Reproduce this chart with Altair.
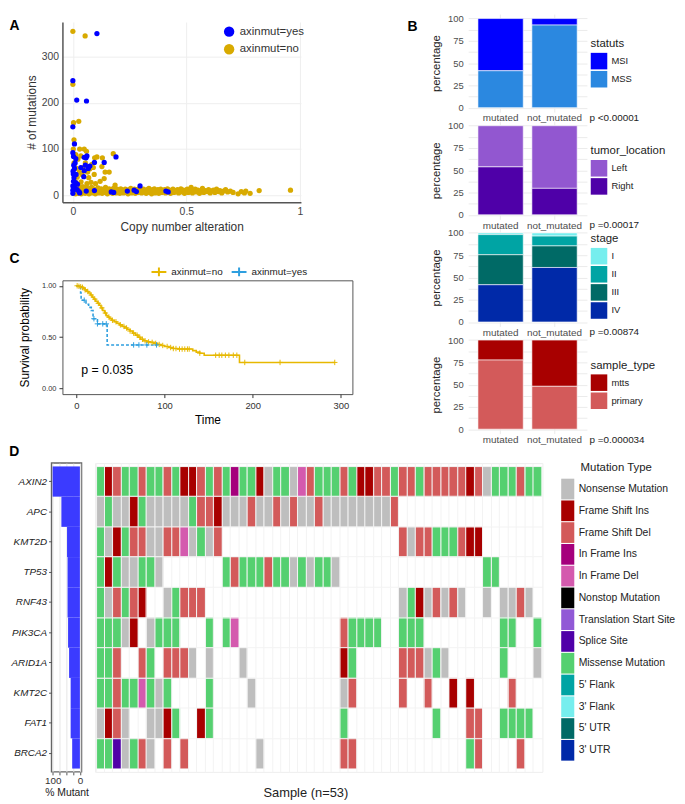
import altair as alt
import pandas as pd

FONT = "Liberation Sans"

# ================= Panel A : scatter (copy number alteration vs # mutations) =================
yes_points = [
    (0.106, 350), (0.000, 248), (0.017, 206), (0.060, 204), (0.000, 148),
    (0.007, 111), (0.000, 92), (0.003, 84), (0.013, 79), (0.062, 85),
    (0.058, 81), (0.050, 82), (0.138, 71), (0.190, 83), (0.095, 71),
    (0.035, 60), (0.055, 65), (0.075, 63), (0.068, 58), (0.050, 53),
    (0.007, 58), (0.002, 46), (0.014, 45), (0.048, 40), (0.004, 65),
    (0.012, 27), (0.000, 20), (0.020, 24), (0.019, 12), (0.000, 4),
    (0.027, 8), (0.059, 9), (0.095, 10), (0.169, 7), (0.180, 6),
    (0.240, 9), (0.270, 11), (0.280, 8), (0.296, 20), (0.410, 9),
    (0.420, 7), (0.000, 11), (0.008, 16), (0.030, 5), (0.005, 38),
    (0.001, 52), (0.010, 70), (0.003, 30),
]
no_points_high = [
    (0.000, 355), (0.054, 345), (0.000, 240), (0.003, 157), (0.026, 160),
    (0.030, 100), (0.050, 100), (0.060, 95), (0.106, 83), (0.096, 81),
    (0.178, 90), (0.130, 81), (0.128, 62), (0.142, 50), (0.160, 50),
    (0.138, 36), (0.094, 45), (0.084, 67), (0.074, 57), (0.029, 50),
    (0.019, 39), (0.036, 29), (0.062, 25), (0.044, 60), (0.022, 78),
    (0.013, 88), (0.186, 22), (0.005, 70), (0.010, 30), (0.040, 45),
    (0.070, 38), (0.015, 58), (0.055, 70), (0.035, 85), (0.090, 60),
    (0.120, 30), (0.065, 50), (0.080, 28), (0.005, 120), (0.002, 100),
    (0.025, 20), (0.045, 18), (0.100, 25),
]
no_points_band = [
    (0.003, 5), (0.006, 14), (0.009, 9), (0.012, 3), (0.015, 17), (0.018, 7), (0.021, 11), (0.024, 4),
    (0.027, 15), (0.031, 8), (0.034, 12), (0.037, 3), (0.041, 18), (0.044, 6), (0.047, 10), (0.051, 14),
    (0.054, 4), (0.058, 9), (0.061, 16), (0.064, 6), (0.068, 11), (0.071, 3), (0.075, 13), (0.078, 8),
    (0.082, 17), (0.085, 5), (0.089, 10), (0.092, 14), (0.096, 7), (0.099, 3), (0.103, 12), (0.107, 9),
    (0.111, 16), (0.114, 5), (0.118, 11), (0.122, 7), (0.125, 14), (0.129, 4), (0.133, 9), (0.137, 12),
    (0.141, 6), (0.144, 17), (0.148, 8), (0.152, 3), (0.156, 11), (0.160, 14), (0.163, 6), (0.167, 9),
    (0.171, 12), (0.175, 4), (0.179, 15), (0.183, 8), (0.187, 11), (0.191, 5), (0.195, 13), (0.199, 8),
    (0.203, 10), (0.207, 4), (0.211, 14), (0.215, 7), (0.219, 11), (0.223, 5), (0.227, 9), (0.231, 13),
    (0.235, 6), (0.239, 10), (0.243, 3), (0.247, 12), (0.251, 8), (0.255, 15), (0.259, 5), (0.263, 10),
    (0.267, 7), (0.271, 13), (0.275, 4), (0.279, 9), (0.283, 12), (0.287, 6), (0.291, 14), (0.295, 8),
    (0.299, 11), (0.303, 5), (0.307, 9), (0.311, 13), (0.315, 7), (0.319, 10), (0.323, 4), (0.327, 12),
    (0.331, 8), (0.335, 15), (0.339, 6), (0.343, 10), (0.347, 3), (0.351, 12), (0.355, 8), (0.359, 14),
    (0.363, 5), (0.367, 10), (0.371, 7), (0.375, 12), (0.379, 4), (0.383, 9), (0.387, 13), (0.391, 6),
    (0.395, 10), (0.399, 8), (0.404, 12), (0.408, 5), (0.412, 10), (0.417, 14), (0.421, 7), (0.426, 11),
    (0.431, 4), (0.436, 9), (0.441, 13), (0.446, 6), (0.451, 10), (0.456, 8), (0.461, 12), (0.466, 5),
    (0.471, 9), (0.476, 14), (0.481, 7), (0.487, 11), (0.492, 4), (0.498, 10), (0.504, 13), (0.509, 6),
    (0.515, 9), (0.521, 17), (0.527, 5), (0.533, 10), (0.539, 13), (0.545, 7), (0.551, 11), (0.558, 4),
    (0.564, 9), (0.571, 15), (0.577, 6), (0.584, 10), (0.591, 8), (0.598, 12), (0.605, 5), (0.612, 9),
    (0.619, 11), (0.626, 6), (0.633, 13), (0.641, 8), (0.648, 10), (0.656, 5), (0.664, 9), (0.673, 12),
    (0.682, 7), (0.694, 9), (0.706, 6), (0.728, 3), (0.742, 8), (0.756, 5), (0.762, 9), (0.781, 4),
    (0.821, 10), (0.959, 11),
]

# ================= Panel B : stacked percentage bars =================
b_groups = ["mutated", "not_mutated"]
statuts_cats = ["MSI", "MSS"]
statuts_mut = [58.6, 41.4]
statuts_not = [7.3, 92.7]
statuts_colors = ["#0000FF", "#2B88E0"]

loc_cats = ["Left", "Right"]
loc_mut = [46.2, 53.8]
loc_not = [70.3, 29.7]
loc_colors = ["#9257D0", "#4F00A8"]

stage_cats = ["I", "II", "III", "IV"]
stage_mut = [1.9, 22.6, 33.7, 41.8]
stage_not = [3.6, 11.0, 24.2, 61.2]
stage_colors = ["#76EEEE", "#00A4A4", "#006A66", "#0029A8"]

sample_cats = ["mtts", "primary"]
sample_mut = [22.4, 77.6]
sample_not = [51.9, 48.1]
sample_colors = ["#A80000", "#D35A5A"]

# ================= Panel C : Kaplan-Meier =================
no_time = [0, 2, 4, 6, 8, 10, 12, 14, 16, 18, 20, 22, 24, 26, 28, 30, 32, 34, 36, 38,
           40, 43, 46, 49, 52, 55, 58, 61, 64, 67, 70, 73, 76, 80, 84, 88, 92, 96, 100, 105,
           110, 115, 132, 136, 140, 145, 185, 293]
no_surv = [1.0, 0.995, 0.99, 0.985, 0.975, 0.96, 0.945, 0.93, 0.91, 0.89, 0.87, 0.85, 0.83, 0.81,
           0.785, 0.76, 0.735, 0.71, 0.695, 0.68, 0.665, 0.65, 0.635, 0.62, 0.605, 0.59, 0.575,
           0.56, 0.54, 0.52, 0.50, 0.48, 0.465, 0.455, 0.45, 0.44, 0.43, 0.42, 0.41, 0.40, 0.39,
           0.385, 0.37, 0.355, 0.345, 0.325, 0.255, 0.255]
yes_time = [0, 4.9, 5.5, 11, 14, 17, 19, 24, 35, 92]
yes_surv = [1.0, 0.93, 0.86, 0.82, 0.79, 0.76, 0.68, 0.63, 0.425, 0.425]
no_censor = [1, 3, 5, 7, 10, 13, 17, 21, 25, 29, 33, 37, 41, 45, 50, 54, 57, 61, 65, 69, 72, 75,
             78, 82, 86, 90, 94, 98, 103, 107, 110, 113, 117, 120, 123, 126, 128, 140, 158, 162,
             165, 169, 173, 178, 182, 191, 231, 293]
yes_censor = [9, 20, 24, 30, 34, 65, 71, 80, 91]

# ================= Panel D : oncoplot =================
genes = ["AXIN2", "APC", "KMT2D", "TP53", "RNF43", "PIK3CA", "ARID1A", "KMT2C", "FAT1", "BRCA2"]
# one character per sample (53 samples); '.' = no mutation
AXIN2 = "GRDGGDGGDG" "RRDGDGIGGR" "NGGNFDGGGD" "GRRDDGDDGD" "DDDDRDNGGG" "DGG"
APC = "NGNNRGNNNN" "NGDDRNNNDN" "NDNDNNDNNN" "NNNNND...." ".........." "..."
KMT2D = "GNRGDDNNDD" "FNGND....." ".........." "......DNDD" "GGGDRR...." "..."
TP53 = "GRGNNGGN.." ".....GDGGG" "DGGNGNGGN." ".........." "......GG.." "..."
RNF43 = "GNDGDR..NG" "DDD......." ".........." "......NGRN" "DNDN..N.NN" "DN."
PIK3CA = "GGGNR.NGGG" "...G.GF..." ".........D" "GGGG..GGG." "........GG" "..G"
ARID1A = "GGD..DG.DD" "DN.N...N.." ".........R" "G.....DDDN" "GN......G." "..N"
KMT2C = "GGDGGFGNG." "...G....N." ".........N" "D.....D..D" "..R.R....D" "..."
FAT1 = "NRDN..NNRG" "..RG......" ".........G" ".........." "G...DD..GG" "GG."
BRCA2 = "GGSNGDN.D." "D........N" ".........D" "D........." "....GD...." "D.."
gene_rows = [AXIN2, APC, KMT2D, TP53, RNF43, PIK3CA, ARID1A, KMT2C, FAT1, BRCA2]

code_names = {"N": "Nonsense Mutation", "R": "Frame Shift Ins", "D": "Frame Shift Del",
              "I": "In Frame Ins", "F": "In Frame Del", "S": "Splice Site", "G": "Missense Mutation"}
mut_types = ["Nonsense Mutation", "Frame Shift Ins", "Frame Shift Del", "In Frame Ins",
             "In Frame Del", "Nonstop Mutation", "Translation Start Site", "Splice Site",
             "Missense Mutation", "5' Flank", "3' Flank", "5' UTR", "3' UTR"]
mut_colors = ["#BEBEBE", "#A80000", "#D35A5A", "#A5007C", "#D45AAE", "#000000", "#9159D6",
              "#5000A8", "#55D070", "#00A4A4", "#76EEEE", "#006A66", "#0029A8"]

# ---------------------------------------------------------------------------------
def spacer(w, h):
    return alt.Chart(pd.DataFrame({"v": [0]})).mark_point(size=1, opacity=0).properties(width=w, height=h)

# Panel A chart
dfA = pd.DataFrame(
    [{"cna": x, "mut": y, "grp": "axinmut=no", "ord": 0} for x, y in no_points_band + no_points_high]
    + [{"cna": x, "mut": y, "grp": "axinmut=yes", "ord": 1} for x, y in yes_points]
)
A = alt.Chart(dfA).mark_circle(size=28, opacity=1).encode(
    x=alt.X("cna:Q", scale=alt.Scale(domain=[-0.046, 1.005], nice=False, zero=False),
            axis=alt.Axis(values=[0, 0.5, 1], format="~g", title="Copy number alteration",
                          labelFontSize=10.5, labelColor="#444", titleFontSize=12, titleColor="#333",
                          titleFontWeight="normal", ticks=False, labelPadding=4, titlePadding=5,
                          domainColor="#555", domainWidth=1.5, gridColor="#EEEEEE")),
    y=alt.Y("mut:Q", scale=alt.Scale(domain=[-15, 375], nice=False, zero=False),
            axis=alt.Axis(values=[0, 100, 200, 300], title="# of mutations",
                          labelFontSize=10.5, labelColor="#444", titleFontSize=12, titleColor="#333",
                          titleFontWeight="normal", ticks=False, labelPadding=4, titlePadding=3,
                          domainColor="#555", domainWidth=1.5, gridColor="#EEEEEE")),
    color=alt.Color("grp:N", scale=alt.Scale(domain=["axinmut=yes", "axinmut=no"], range=["#0000FF", "#D8AA00"]),
                    legend=alt.Legend(title=None, orient="none", legendX=162.7, legendY=4, symbolType="circle",
                                      symbolSize=110, symbolStrokeWidth=0, labelFontSize=11.5,
                                      labelColor="#333", rowPadding=4.8, padding=0, labelOffset=5)),
    order=alt.Order("ord:Q"),
).properties(width=241, height=182,
             title=alt.TitleParams("A", anchor="start", frame="group", dx=-53.5, offset=-11.4,
                                   fontSize=14, fontWeight="bold", color="black"))

# Panel C chart
def step_at(ts, ss, t):
    v = ss[0]
    for ti, si in zip(ts, ss):
        if ti <= t:
            v = si
    return v

dfCL = pd.DataFrame({"t": no_time + yes_time, "s": no_surv + yes_surv,
                     "grp": ["axinmut=no"] * len(no_time) + ["axinmut=yes"] * len(yes_time)})
dfCC = pd.DataFrame({"t": no_censor + yes_censor,
                     "s": [step_at(no_time, no_surv, t) for t in no_censor] + [step_at(yes_time, yes_surv, t) for t in yes_censor],
                     "grp": ["axinmut=no"] * len(no_censor) + ["axinmut=yes"] * len(yes_censor)})
c_dom = ["axinmut=no", "axinmut=yes"]
colC = alt.Color("grp:N", scale=alt.Scale(domain=c_dom, range=["#E7B800", "#2E9FDF"]),
                 legend=alt.Legend(title=None, orient="none", legendX=89, legendY=-17, direction="horizontal",
                                   symbolType="M-1,0H1M0,-0.6V0.6", symbolSize=225, symbolStrokeWidth=2,
                                   labelFontSize=10, labelColor="#222", columnPadding=5, labelOffset=4, padding=0))
xC = alt.X("t:Q", scale=alt.Scale(domain=[-15.7, 313], nice=False, zero=False),
           axis=alt.Axis(values=[0, 100, 200, 300], title="Time", labelFontSize=9.5, labelColor="#333",
                         tickSize=3.5, tickColor="#333", labelPadding=3, titleFontSize=12,
                         titleFontWeight="normal", titlePadding=5, grid=False, domain=False))
yC = alt.Y("s:Q", scale=alt.Scale(domain=[-0.053, 1.053], nice=False, zero=False),
           axis=alt.Axis(values=[0, 0.25, 0.5, 0.75, 1], format=".2f", title="Survival probability",
                         labelFontSize=7.5, labelColor="#333", tickSize=3.5, tickColor="#333", labelPadding=3,
                         titleFontSize=12, titleFontWeight="normal", titlePadding=10, grid=False, domain=False))
c_lines = alt.Chart(dfCL).mark_line(interpolate="step-after", strokeWidth=1.6).encode(
    x=xC, y=yC, color=colC,
    strokeDash=alt.StrokeDash("grp:N", scale=alt.Scale(domain=c_dom, range=[[1, 0], [3, 2]]), legend=None))
c_cens = alt.Chart(dfCC).mark_point(shape="M-1,0H1M0,-1V1", size=30, filled=False, strokeWidth=1, opacity=1).encode(
    x=xC, y=yC, color=colC)
c_text = alt.Chart(pd.DataFrame({"t": [5.6], "s": [0.184], "label": ["p = 0.035"]})).mark_text(
    align="left", baseline="middle", fontSize=12.5, color="black").encode(x="t:Q", y="s:Q", text="label:N")
C = alt.layer(c_lines, c_cens, c_text).properties(
    width=293, height=115, view=alt.ViewBackground(stroke="#555", strokeWidth=1),
    title=alt.TitleParams("C", anchor="start", frame="group", dx=-53.5, offset=-3,
                          fontSize=14, fontWeight="bold", color="black"))

# Panel B charts
def bpanel(field, cats, colors, mut_vals, not_vals, pval, leg_y, title=None):
    n = len(cats)
    df = pd.DataFrame({
        "grp": ["mutated"] * n + ["not_mutated"] * n,
        field: cats + cats,
        "val": mut_vals + not_vals,
        "ord": [n - 1 - i for i in range(n)] * 2,
    })
    props = dict(width=120, height=99)
    if title is not None:
        props["title"] = title
    return alt.Chart(df).mark_bar(stroke="white", strokeWidth=0.6).encode(
        x=alt.X("grp:N", scale=alt.Scale(domain=b_groups, paddingInner=0.16, paddingOuter=0.181),
                axis=alt.Axis(title=pval, labelAngle=0, labelFontSize=10, labelColor="#4D4D4D", labelPadding=1,
                              ticks=False, domain=False, grid=True, gridColor="#EBEBEB", bandPosition=0.5,
                              titleFontSize=10, titleFontWeight="normal", titleColor="#222",
                              titleX=122, titleY=0.5, titleAlign="left", titleBaseline="top")),
        y=alt.Y("val:Q", stack="zero", scale=alt.Scale(domain=[-5, 105], nice=False, zero=False),
                axis=alt.Axis(title="percentage", values=[0, 12.5, 25, 37.5, 50, 62.5, 75, 87.5, 100],
                              labelExpr="datum.value % 25 == 0 ? datum.label : ''",
                              labelFontSize=9.5, labelColor="#4D4D4D", labelPadding=5, ticks=False,
                              domain=False, gridColor="#EBEBEB", titleFontSize=11.5,
                              titleFontWeight="normal", titleColor="#222", titlePadding=6)),
        color=alt.Color(f"{field}:N", scale=alt.Scale(domain=cats, range=colors),
                        legend=alt.Legend(title=field, orient="none", legendX=123.7, legendY=leg_y,
                                          symbolType="square", symbolSize=279, symbolStrokeWidth=0,
                                          symbolOpacity=1, labelFontSize=9.5,
                                          labelColor="#222", titleFontSize=11.5, titleFontWeight="normal",
                                          titleColor="#222", rowPadding=1.3, titlePadding=3, padding=0,
                                          labelOffset=4)),
        order=alt.Order("ord:Q"),
    ).properties(**props)

B1 = bpanel("statuts", statuts_cats, statuts_colors, statuts_mut, statuts_not, "p <0.00001", 24.5,
            alt.TitleParams("B", anchor="start", frame="group", dx=-61.3, offset=-20.8,
                            fontSize=14, fontWeight="bold", color="black"))
B2 = bpanel("tumor_location", loc_cats, loc_colors, loc_mut, loc_not, "p =0.00017", 24.5)
B3 = bpanel("stage", stage_cats, stage_colors, stage_mut, stage_not, "p =0.00874", 5)
B4 = bpanel("sample_type", sample_cats, sample_colors, sample_mut, sample_not, "p =0.000034", 24.5)

# Panel D charts
recs = []
for g, row in zip(genes, gene_rows):
    for i, c in enumerate(row):
        if c != ".":
            recs.append({"gene": g, "sample": i, "type": code_names[c]})
dfH = pd.DataFrame(recs)
n_samples = len(AXIN2)
dfP = pd.DataFrame({"gene": genes,
                    "pct": [100.0 * sum(ch != "." for ch in row) / n_samples for row in gene_rows]})

y_gene = alt.Scale(domain=genes, paddingInner=0, paddingOuter=0.11)
P = alt.Chart(dfP).mark_bar(color="#3B3BFF").encode(
    x=alt.X("pct:Q", scale=alt.Scale(domain=[-6, 104], reverse=True, nice=False, zero=False),
            axis=alt.Axis(values=[0, 25, 50, 75, 100],
                          labelExpr="datum.value == 0 || datum.value == 100 ? datum.label : ''",
                          title="% Mutant", labelFontSize=10, labelColor="#333", tickSize=3,
                          tickColor="#555", labelPadding=1, titleFontSize=10.5, titleFontWeight="normal",
                          titleColor="#222", titlePadding=2, grid=True, gridColor="#E6E6E6", domain=False,
                          labelOverlap=False)),
    x2=alt.datum(0),
    y=alt.Y("gene:N", scale=y_gene,
            axis=alt.Axis(title=None, labelFontStyle="italic", labelFontSize=10, labelColor="#222",
                          tickSize=3, tickColor="#555", labelPadding=2, domain=False, grid=False)),
).properties(width=30.3, height=312, view=alt.ViewBackground(stroke="#666", strokeWidth=1.5),
             title=alt.TitleParams("D", anchor="start", frame="group", dx=-42.7, offset=4,
                                   fontSize=14, fontWeight="bold", color="black"))

H = alt.Chart(dfH).mark_rect(stroke="white", strokeWidth=0.3, strokeOpacity=0.5).encode(
    x=alt.X("sample:O", scale=alt.Scale(domain=list(range(n_samples)), paddingInner=0, paddingOuter=0.12),
            axis=alt.Axis(title="Sample (n=53)", labels=False, ticks=False, domain=False, grid=True,
                          gridColor="#F3F3F3", bandPosition=0, titleFontSize=13, titleFontWeight="normal",
                          titleColor="#222", titleX=212.5, titleY=21, titleBaseline="middle")),
    y=alt.Y("gene:N", scale=y_gene,
            axis=alt.Axis(title=None, labels=False, ticks=False, domain=False, grid=True,
                          gridColor="#F3F3F3", bandPosition=0)),
    color=alt.Color("type:N", scale=alt.Scale(domain=mut_types, range=mut_colors),
                    legend=alt.Legend(title="Mutation Type", orient="none", legendX=466.6, legendY=-1.3,
                                      symbolType="M-0.6,-0.95H0.6V0.95H-0.6Z", symbolSize=484,
                                      symbolStrokeWidth=0, symbolOpacity=1,
                                      labelFontSize=10.5, labelColor="#222", titleFontSize=11.5,
                                      titleFontWeight="normal", titleColor="#222", titleAnchor="middle",
                                      titlePadding=5, rowPadding=0, padding=0, labelOffset=0,
                                      symbolLimit=20, labelLimit=200)),
).properties(width=452, height=312, view=alt.ViewBackground(stroke="#EEEEEE", strokeWidth=1))

# ---------------------------------------------------------------------------------
def indep(c):
    return c.resolve_scale(color="independent").resolve_legend(color="independent")

AC = indep(alt.vconcat(A, C, spacing=79, bounds="flush"))
left_col = indep(alt.vconcat(spacer(1, 8), AC, spacing=0, bounds="flush"))
b_col = indep(alt.vconcat(B1, B2, B3, B4, spacing=9.3, bounds="flush"))
inner_top = indep(alt.hconcat(left_col, b_col, spacing=54))
row1 = indep(alt.hconcat(spacer(11.8, 1), inner_top, spacing=0, bounds="flush"))

inner_d = indep(alt.hconcat(P, H, spacing=13, bounds="flush"))
row2 = indep(alt.hconcat(spacer(1, 1), inner_d, spacing=0, bounds="flush"))

chart = indep(alt.vconcat(row1, row2, spacing=-1.3)).properties(
    padding=0, background="white"
).configure(font=FONT).configure_view(stroke="transparent")

chart.save("out.html", embed_options={"renderer": "svg", "actions": False})
